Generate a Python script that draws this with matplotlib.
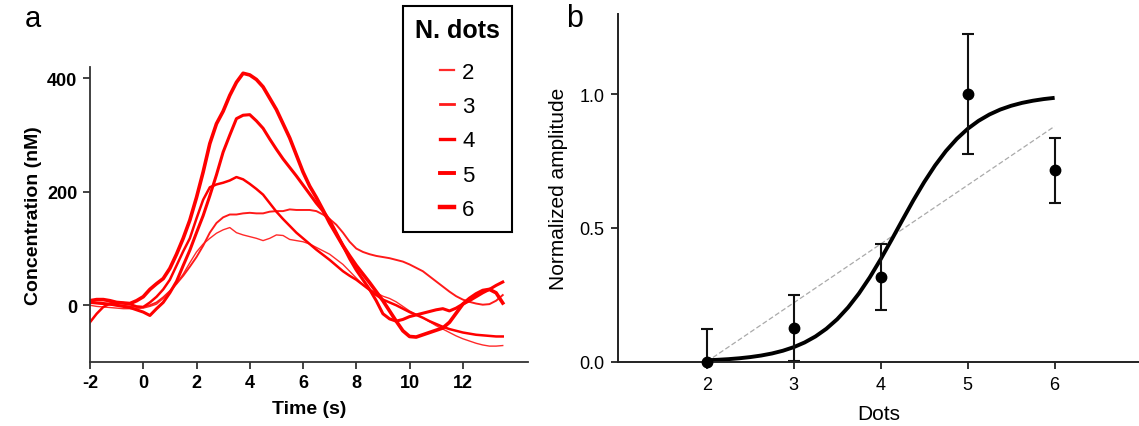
import matplotlib
matplotlib.use("Agg")
import matplotlib.pyplot as plt
import numpy as np

plt.rcParams['font.family'] = ['Liberation Sans', 'DejaVu Sans']
plt.rcParams['axes.unicode_minus'] = False

# ---------------- Panel a data ----------------
time_s = np.arange(-2, 13.75, 0.25)   # sample times, -2 ... 13.5 s
conc_2 = [0, -2, -3, -4, -5, -6, -6, -6, -5, -2, 2, 12, 25, 38, 55, 75,
          94, 108, 118, 127, 133, 137, 128, 124, 121, 118, 114, 118, 124, 123, 116, 114,
          112, 108, 102, 96, 90, 81, 72, 60, 48, 36, 28, 22, 16, 12, 6, -2,
          -10, -16, -22, -29, -36, -42, -48, -54, -59, -63, -67, -70, -72, -72, -71]
conc_3 = [5, 4, 3, 1, 0, -1, -2, -3, -3, 0, 5, 14, 25, 38, 52, 68,
          85, 105, 128, 145, 155, 160, 160, 162, 163, 162, 162, 165, 166, 166, 169, 168,
          168, 168, 166, 160, 152, 142, 128, 112, 100, 94, 90, 87, 85, 83, 80, 77,
          72, 66, 60, 51, 42, 33, 24, 16, 10, 6, 3, 1, 2, 8, 18]
conc_4 = [-30, -15, -3, 3, 5, 4, 2, -2, -3, 5, 15, 28, 45, 70, 95, 118,
          153, 186, 208, 213, 216, 220, 226, 222, 214, 205, 195, 180, 165, 152, 140, 128,
          118, 108, 98, 89, 80, 70, 60, 52, 45, 36, 27, 18, 10, 5, 0, -6,
          -12, -17, -22, -28, -33, -38, -42, -45, -48, -50, -52, -53, -54, -55, -55]
conc_5 = [5, 4, 3, 2, 0, -2, -4, -8, -12, -18, -6, 5, 22, 42, 70, 97,
          128, 158, 193, 230, 270, 300, 329, 335, 336, 325, 312, 293, 275, 258, 243, 228,
          212, 196, 180, 166, 150, 128, 105, 82, 62, 45, 28, 8, -15, -24, -28, -25,
          -20, -17, -14, -11, -8, -6, -10, -5, 2, 8, 15, 22, 28, 35, 41]
conc_6 = [8, 10, 10, 8, 5, 4, 3, 8, 15, 28, 38, 47, 65, 90, 118, 150,
          190, 235, 285, 320, 342, 370, 393, 409, 406, 398, 385, 365, 345, 320, 295, 265,
          235, 210, 190, 168, 145, 125, 105, 87, 70, 55, 40, 24, 8, -10, -28, -45,
          -55, -56, -52, -48, -44, -40, -30, -14, 2, 12, 20, 26, 28, 22, 4]
series_labels = ['2', '3', '4', '5', '6']

# ---------------- Panel b data ----------------
dots = [2, 3, 4, 5, 6]
amplitude = [0.0, 0.126, 0.317, 1.0, 0.716]
amp_err = [0.122, 0.124, 0.122, 0.224, 0.122]
fit_x = np.arange(2, 6.0001, 0.125)   # 2 ... 6
fit_y = [0.0053, 0.0071, 0.0095, 0.0128, 0.0172, 0.0230, 0.0307, 0.0409,
         0.0543, 0.0718, 0.0943, 0.1230, 0.1588, 0.2028, 0.2551, 0.3155,
         0.3832, 0.4554, 0.5297, 0.6028, 0.6713, 0.7334, 0.7875, 0.8330,
         0.8705, 0.9004, 0.9241, 0.9426, 0.9567, 0.9675, 0.9756, 0.9818, 0.9864]
lin_x = [2, 6]
lin_y = [0.0, 0.88]

fig = plt.figure(figsize=(11.39, 4.27), dpi=100)

# ---------------- Panel a ----------------
axa = fig.add_axes([0.0790, 0.1499, 0.4636 - 0.0790, 0.8407 - 0.1499])
widths = [1.0, 1.4, 1.8, 2.2, 2.6]
colors = ['#ff2a2a', '#ff1a1a', '#ff0000', '#ff0000', '#ff0000']
for ys, lw, c, lab in zip([conc_2, conc_3, conc_4, conc_5, conc_6], widths, colors, series_labels):
    axa.plot(time_s, ys, color=c, lw=lw, label=lab, solid_joinstyle='round')
axa.set_xlim(-2, 14.45)
axa.set_ylim(-100, 420)
axa.set_xticks([-2, 0, 2, 4, 6, 8, 10, 12])
axa.set_yticks([0, 200, 400])
for s in ['top', 'right']:
    axa.spines[s].set_visible(False)
for s in ['left', 'bottom']:
    axa.spines[s].set_linewidth(1.3)
    axa.spines[s].set_color('#333333')
axa.tick_params(direction='out', length=5, width=1.3, color='#333333', labelsize=13, pad=4)
for lab in axa.get_xticklabels() + axa.get_yticklabels():
    lab.set_fontweight('bold')
axa.set_xlabel('Time (s)', fontsize=14, fontweight='bold', labelpad=6)
axa.set_ylabel('Concentration (nM)', fontsize=14, fontweight='bold', labelpad=4)

leg = axa.legend(loc='upper right', bbox_to_anchor=(0.4495, 0.9836),
                 bbox_transform=fig.transFigure, borderaxespad=0,
                 title='N. dots', fontsize=16, handlelength=0.65, handletextpad=0.35,
                 labelspacing=0.6, borderpad=0.55, alignment='center',
                 fancybox=False, framealpha=1)
leg.get_title().set_fontsize(18)
leg.get_title().set_fontweight('bold')
leg.get_frame().set_edgecolor('black')
leg.get_frame().set_linewidth(1.5)
leg._legend_box.sep = 14
for h, lw in zip(leg.get_lines(), widths):
    h.set_linewidth(lw + 0.6)
fig.text(0.022, 0.955, 'a', fontsize=21, va='center', ha='left')

# ---------------- Panel b ----------------
axb = fig.add_axes([0.5426, 0.1506, 1.0 - 0.5426, 0.965 - 0.1506])
axb.plot(lin_x, lin_y, color='#aaaaaa', lw=0.9, dashes=(4, 2))
axb.plot(fit_x, fit_y, color='black', lw=2.8, solid_capstyle='butt')
axb.errorbar(dots, amplitude, yerr=amp_err, fmt='none', ecolor='#111111',
             elinewidth=1.5, capsize=4, capthick=1.5)
axb.plot(dots, amplitude, 'o', color='black', ms=7.5, clip_on=False, zorder=5)
axb.set_xlim(0.98, 6.97)
axb.set_ylim(0, 1.3)
axb.set_xticks([2, 3, 4, 5, 6])
axb.set_yticks([0.0, 0.5, 1.0])
axb.set_yticklabels(['0.0', '0.5', '1.0'])
for s in ['top', 'right']:
    axb.spines[s].set_visible(False)
for s in ['left', 'bottom']:
    axb.spines[s].set_linewidth(1.4)
    axb.spines[s].set_color('#222222')
axb.tick_params(direction='out', length=5, width=1.3, color='#222222', labelsize=13, pad=5)
axb.set_xlabel('Dots', fontsize=15, labelpad=8)
axb.set_ylabel('Normalized amplitude', fontsize=15, labelpad=8)
fig.text(0.497, 0.955, 'b', fontsize=22, va='center', ha='left')

fig.savefig('out.png', dpi=100)
